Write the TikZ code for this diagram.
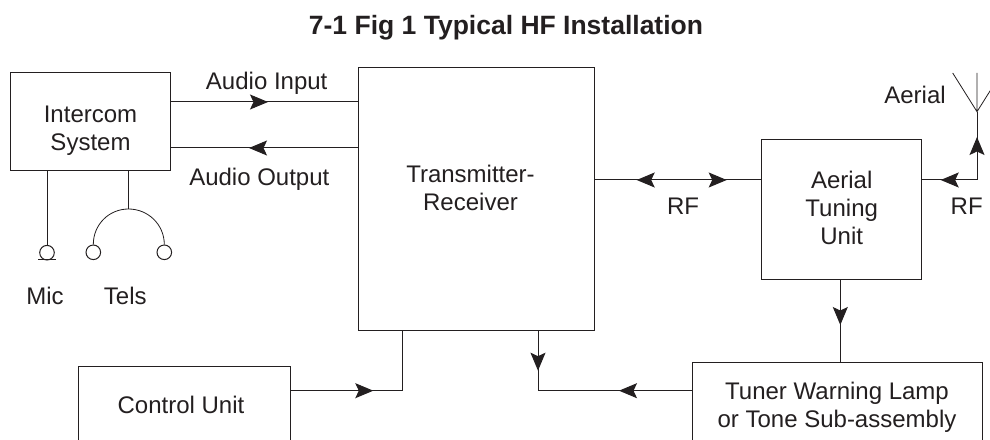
\documentclass[tikz,border=0pt]{standalone}
\usepackage{fontspec}
\setmainfont{Liberation Sans}
\usetikzlibrary{arrows.meta,decorations.markings}
\definecolor{ink}{HTML}{231F20}
\tikzset{
  blockbox/.style={draw=ink,line width=1pt,inner sep=0pt,outer sep=0pt,fill=white},
  conn/.style={draw=ink,line width=1pt},
  lbl/.style={text=ink,font=\fontsize{24}{28}\selectfont,align=center,inner sep=0pt},
  tip/.tip={Stealth[length=18pt,width=15pt,inset=3.5pt]},
  fwd/.style={postaction={decorate,decoration={markings,mark=at position #1 with {\arrow{tip}}}}},
  bwd/.style={postaction={decorate,decoration={markings,mark=at position #1 with {\arrowreversed{tip}}}}},
}
\begin{document}
\begin{tikzpicture}[x=1pt,y=1pt]
\clip (0,0) rectangle (990,439);
% blocks
\node[blockbox,minimum width=160pt,minimum height=98pt] (intercom) at (90,317) {};
\node[blockbox,minimum width=236pt,minimum height=263pt] (tr) at (476,239.5) {};
\node[blockbox,minimum width=160pt,minimum height=140pt] (atu) at (841,229) {};
\node[blockbox,minimum width=211.3pt,minimum height=76pt] (control) at (184.35,34) {};
\node[blockbox,minimum width=290pt,minimum height=84pt] (tuner) at (837,34) {};
% block texts
\node[lbl] (intercomtext) at (90.5,308.5) {Intercom\\System};
\node[lbl] (trtext) at (470.5,251.5) {Transmitter-\\Receiver};
\node[lbl] (atutext) at (841.7,231) {Aerial\\Tuning\\Unit};
\node[lbl] (controltext) at (181,34) {Control Unit};
\node[lbl] (tunertext) at (837,32) {Tuner Warning Lamp\\or Tone Sub-assembly};
% title
\node[text=ink,font=\fontsize{26.5}{30}\selectfont\bfseries,inner sep=0pt,anchor=base] (title) at (506,404) {7-1 Fig 1 Typical HF Installation};
% free labels
\node[lbl,anchor=base] (ainlabel) at (266.7,349.7) {Audio Input};
\node[lbl,anchor=base] (aoutlabel) at (259.3,253) {Audio Output};
\node[lbl,anchor=base] (miclabel) at (45,134) {Mic};
\node[lbl,anchor=base] (telslabel) at (125.3,134) {Tels};
\node[lbl,anchor=base] (rflabel) at (683,224) {RF};
\node[lbl,anchor=base] (rfrlabel) at (966.7,224) {RF};
\node[lbl,anchor=base] (aeriallabel) at (915,335) {Aerial};
% aerial
\coordinate (abase) at (977,327.3);
\coordinate (aleft) at (952.7,366);
\coordinate (amid) at (977,366);
\coordinate (aright) at (1001.3,366);
\draw[conn,line width=0.8pt] (aleft) -- (abase) -- (aright) (abase) -- (amid);
% intercom peripherals
\node[draw=ink,line width=1pt,circle,minimum size=14.6pt,inner sep=0pt] (mic) at (47,186.3) {};
\node[draw=ink,line width=1pt,circle,minimum size=14.6pt,inner sep=0pt] (telsl) at (93.3,186.7) {};
\node[draw=ink,line width=1pt,circle,minimum size=14.6pt,inner sep=0pt] (telsr) at (164.3,186.7) {};
\coordinate (micl) at (38,179);
\coordinate (micr) at (56,179);
\coordinate (apex) at (128.5,230);
\draw[conn] (micl) -- (micr);
\draw[conn] (mic.north |- intercom.south) -- (mic.north);
\draw[conn] (apex |- intercom.south) -- (apex);
\draw[conn,line width=0.8pt] (telsl.north) .. controls (93.3,214.5) and (109,230) .. (apex) .. controls (148,230) and (164.3,214.5) .. (telsr.north);
% connectors
\draw[conn,fwd=98pt] ([yshift=20pt]intercom.east) -- ([yshift=20pt]intercom.east -| tr.west);
\draw[conn,fwd=109pt] ([yshift=-26pt]intercom.east -| tr.west) -- ([yshift=-26pt]intercom.east);
\draw[conn,bwd=42.7pt,fwd=132.7pt] ([yshift=30pt]atu.west -| tr.east) -- ([yshift=30pt]atu.west);
\draw[conn,bwd=19.7pt,fwd=99pt] ([yshift=30pt]atu.east) -| (abase);
\draw[conn,fwd=83.3pt] ([yshift=14.3pt]control.east) -| ([xshift=-73.7pt]tr.south);
\draw[conn,fwd=45pt] ([xshift=-0.7pt]atu.south) -- ([xshift=-0.7pt]atu.south |- tuner.north);
\draw[conn,fwd=73pt,bwd=174pt] ([yshift=14.3pt]tuner.west) -| ([xshift=62pt]tr.south);
\end{tikzpicture}
\end{document}
